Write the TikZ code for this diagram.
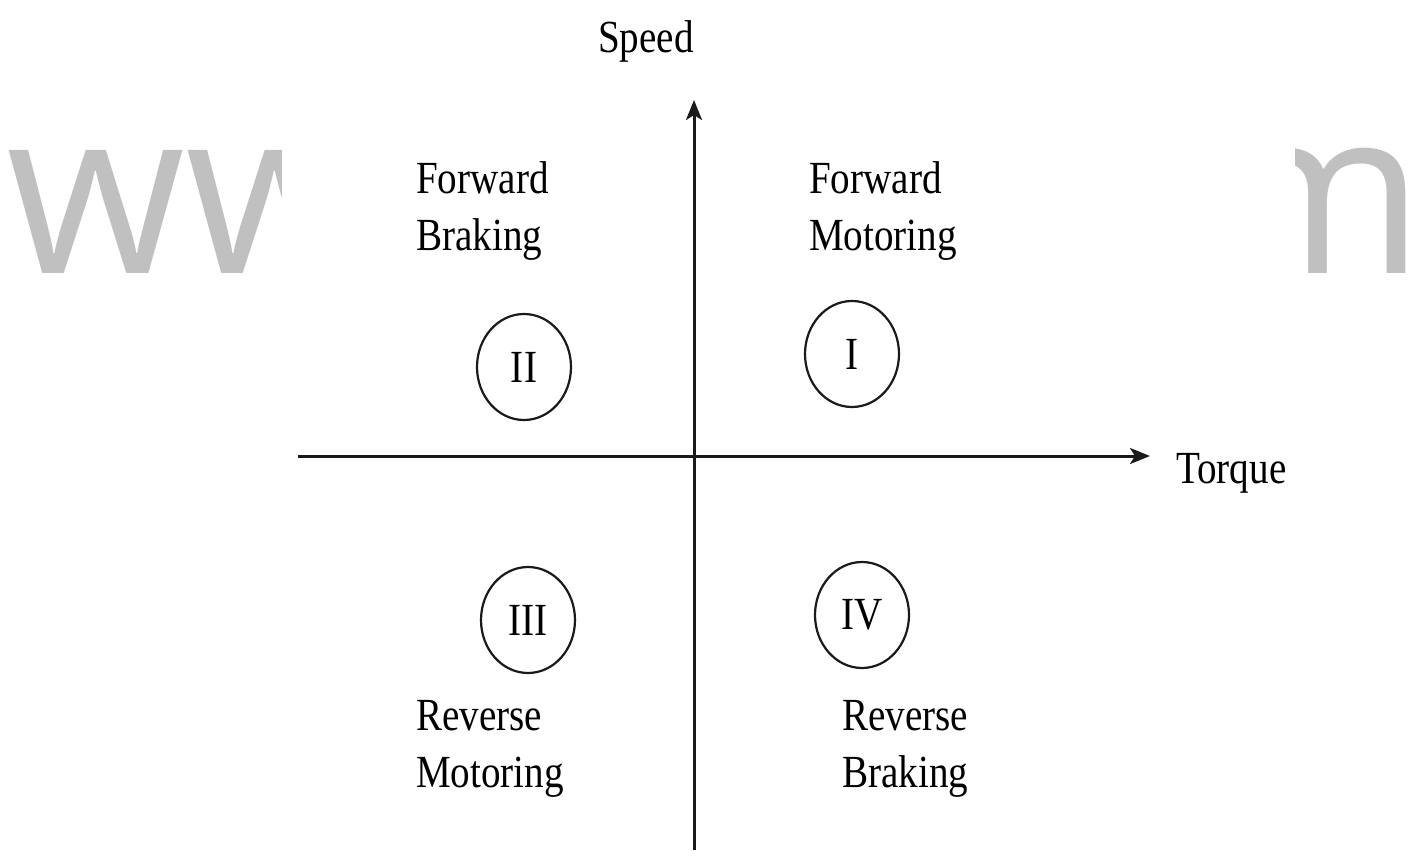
\documentclass[tikz,border=0pt]{standalone}
\usepackage{fontspec}
\usetikzlibrary{arrows.meta,shapes.geometric}
\newfontfamily\labfont{Liberation Serif}[FakeStretch=0.85]
\newfontfamily\wmfont{Open Sans}
\definecolor{wmgray}{HTML}{C0C0C0}
\definecolor{axisgray}{HTML}{1A1A1A}
\tikzset{
  lab/.style={font=\labfont\fontsize{46}{57}\selectfont, inner sep=0pt, align=left, text=black},
  wm/.style={font=\wmfont\fontsize{230}{230}\selectfont, inner sep=0pt, text=wmgray},
  axis/.style={line width=3pt, draw=axisgray, -{Stealth[length=20pt,width=16pt,inset=5pt]}},
  quad/.style={ellipse, draw=axisgray, line width=2.2pt, minimum width=94pt, minimum height=106pt, inner sep=0pt, font=\labfont\fontsize{46}{57}\selectfont}
}
\begin{document}
\begin{tikzpicture}[x=1pt,y=-1pt]
\useasboundingbox[fill=white] (0,0) rectangle (1427,859);
% watermark
\node[wm, anchor=base west] (wmL) at (6,273) {www};
\node[wm, anchor=base east] (wmR) at (1425,273) {m};
\fill[white] (282,120) rectangle (1295,300);
% axes
\coordinate (xs) at (298,456);
\coordinate (xe) at (1150,456);
\coordinate (ys) at (694,850);
\coordinate (ye) at (694,100);
\draw[axis] (xs) -- (xe);
\draw[axis] (ys) -- (ye);
% axis labels
\node[lab, anchor=base west] (speed) at (598,53) {Speed};
\node[lab, anchor=base west] (torque) at (1176,483) {Torque};
% quadrant labels
\node[lab, anchor=north west] (fb) at (416,161) {Forward\\Braking};
\node[lab, anchor=north west] (fm) at (809,161) {Forward\\Motoring};
\node[lab, anchor=north west] (rm) at (416,700) {Reverse\\Motoring};
\node[lab, anchor=north west] (rb) at (842,700) {Reverse\\Braking};
% quadrant circles
\node[quad] (q1) at (852,354) {I};
\node[quad] (q2) at (524,367) {II};
\node[quad] (q3) at (528,620) {III};
\node[quad] (q4) at (862,615) {IV};
\end{tikzpicture}
\end{document}
